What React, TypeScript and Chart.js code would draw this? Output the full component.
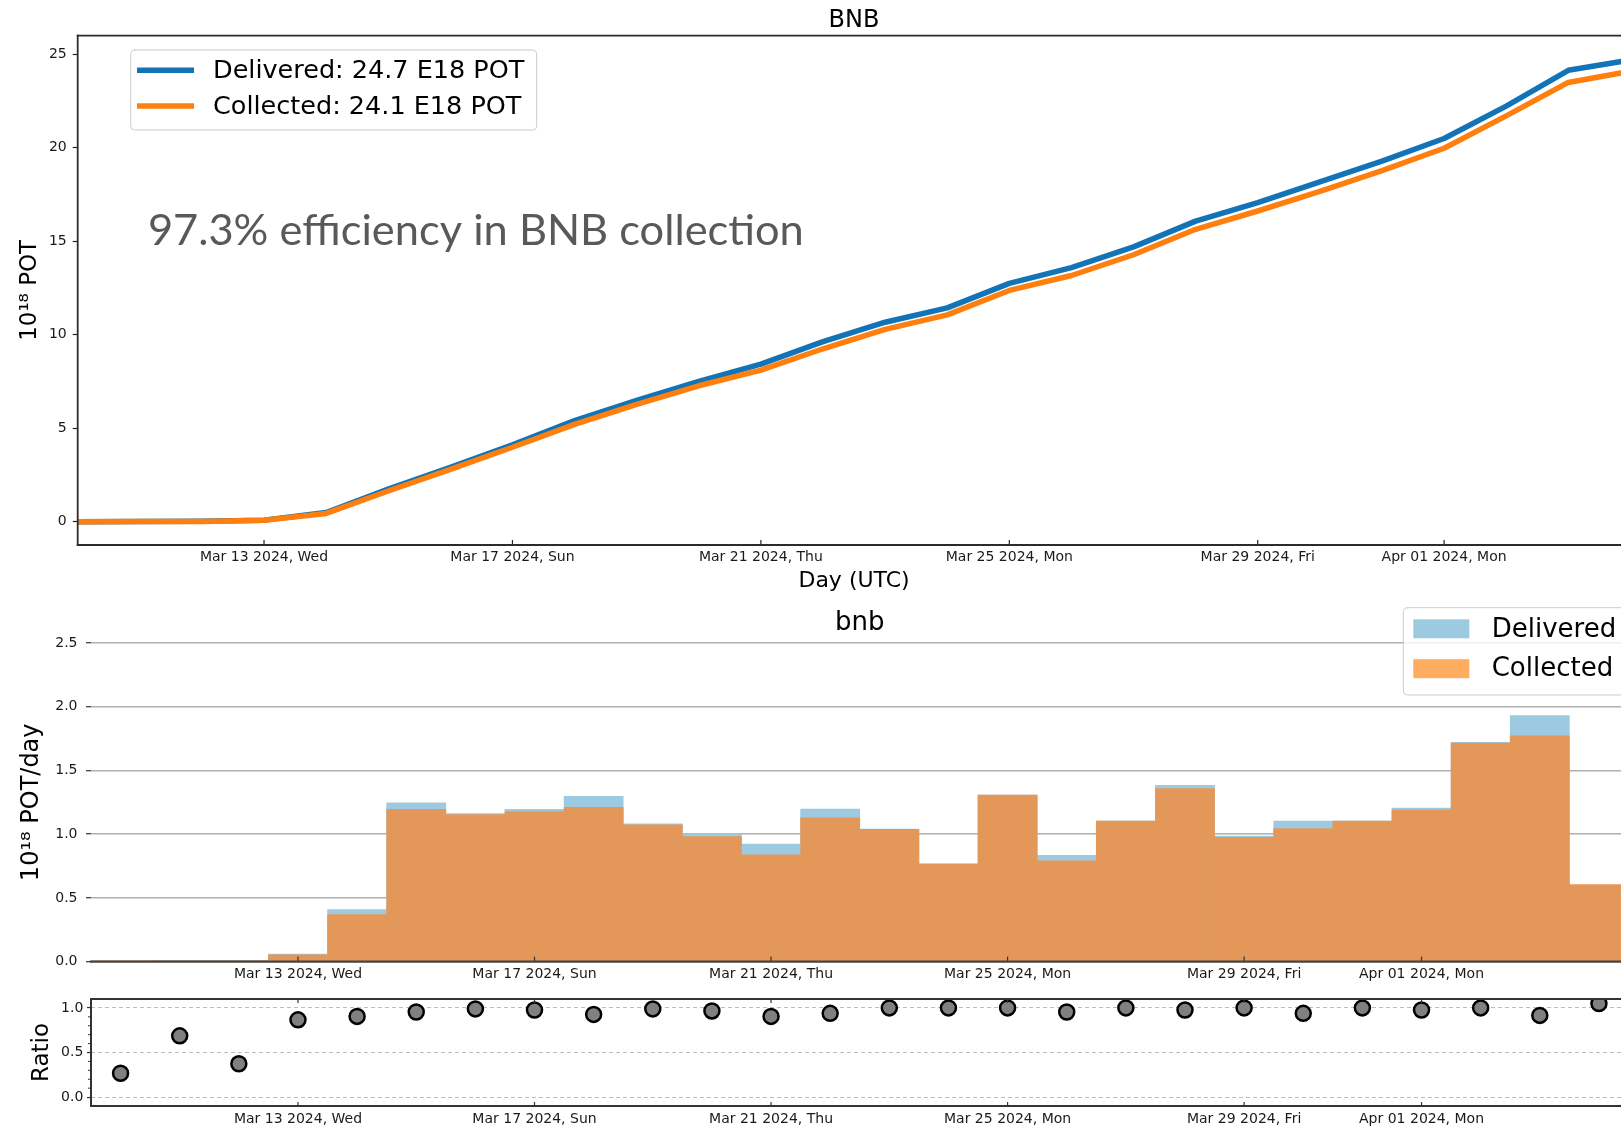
import React, { useEffect, useRef } from 'react';
import { Chart, registerables } from 'chart.js';

Chart.register(...registerables);
Chart.defaults.font.family = '"DejaVu Sans", sans-serif';
Chart.defaults.color = '#1a1a1a';

// ---------------- data ----------------
// x = days since Mar 10 2024 (0 = Mar 10, 25 = Apr 04)
const DAYS = [0, 1, 2, 3, 4, 5, 6, 7, 8, 9, 10, 11, 12, 13, 14, 15, 16, 17, 18, 19, 20, 21, 22, 23, 24, 25];
const TICK_DAYS = [3, 7, 11, 15, 19, 22];
const TICK_LABELS = [
  'Mar 13 2024, Wed',
  'Mar 17 2024, Sun',
  'Mar 21 2024, Thu',
  'Mar 25 2024, Mon',
  'Mar 29 2024, Fri',
  'Apr 01 2024, Mon',
];

// cumulative POT (1e18)
const CUM_DELIVERED = [0.0, 0.01, 0.02, 0.08, 0.49, 1.74, 2.91, 4.11, 5.41, 6.49, 7.5, 8.43, 9.63, 10.67, 11.44, 12.75, 13.59, 14.7, 16.08, 17.07, 18.18, 19.29, 20.5, 22.23, 24.15, 24.7];
const CUM_COLLECTED = [0.0, 0.005, 0.01, 0.07, 0.44, 1.64, 2.8, 3.98, 5.2, 6.28, 7.27, 8.11, 9.25, 10.29, 11.06, 12.37, 13.17, 14.28, 15.64, 16.62, 17.67, 18.78, 19.98, 21.71, 23.5, 24.1];

// daily POT (1e18 / day)
const DAILY_DELIVERED = [0.004, 0.01, 0.01, 0.059, 0.408, 1.246, 1.162, 1.195, 1.297, 1.081, 1.005, 0.922, 1.196, 1.04, 0.768, 1.306, 0.833, 1.102, 1.384, 0.984, 1.102, 1.102, 1.204, 1.72, 1.93, 0.585];
const DAILY_COLLECTED = [0.001, 0.007, 0.004, 0.054, 0.368, 1.195, 1.154, 1.178, 1.211, 1.073, 0.981, 0.838, 1.129, 1.038, 0.766, 1.306, 0.79, 1.102, 1.357, 0.976, 1.043, 1.102, 1.188, 1.715, 1.771, 0.605];

// collected / delivered
const RATIO = [0.267, 0.687, 0.374, 0.866, 0.905, 0.954, 0.989, 0.977, 0.927, 0.989, 0.966, 0.905, 0.939, 1.0, 1.0, 1.0, 0.954, 1.0, 0.977, 1.0, 0.939, 1.0, 0.977, 1.0, 0.916, 1.049];

const TOTAL_DELIVERED = 24.7;
const TOTAL_COLLECTED = 24.1;
const EFFICIENCY_TEXT = '97.3% efficiency in BNB collection';
const EFFICIENCY_POS = { x: 1.13, y: 14.8 };

const Y_TICKS_CUM = [0, 5, 10, 15, 20, 25];
const Y_TICKS_DAILY = [0, 0.5, 1.0, 1.5, 2.0, 2.5];
const Y_TICKS_RATIO = [0, 0.5, 1.0];
const Y_MINOR_RATIO = [0.1, 0.2, 0.3, 0.4, 0.6, 0.7, 0.8, 0.9];

// ---------------- styles ----------------
const BLUE = '#1274b7';
const ORANGE = '#ff7f0e';
const BAR_BLUE = 'rgb(158,202,225)';
const BAR_ORANGE = 'rgb(227,152,89)';
const LEGEND_ORANGE = 'rgb(253,172,96)';
const CANVAS_W = 1650;

const tickLabel = (v: any) => {
  const i = TICK_DAYS.indexOf(Number(v));
  return i >= 0 ? TICK_LABELS[i] : '';
};

function line(ctx: CanvasRenderingContext2D, x1: number, y1: number, x2: number, y2: number) {
  ctx.beginPath();
  ctx.moveTo(x1, y1);
  ctx.lineTo(x2, y2);
  ctx.stroke();
}

function roundRectPath(ctx: CanvasRenderingContext2D, x: number, y: number, w: number, h: number, r: number) {
  ctx.beginPath();
  ctx.moveTo(x + r, y);
  ctx.lineTo(x + w - r, y);
  ctx.arcTo(x + w, y, x + w, y + r, r);
  ctx.lineTo(x + w, y + h - r);
  ctx.arcTo(x + w, y + h, x + w - r, y + h, r);
  ctx.lineTo(x + r, y + h);
  ctx.arcTo(x, y + h, x, y + h - r, r);
  ctx.lineTo(x, y + r);
  ctx.arcTo(x, y, x + r, y, r);
  ctx.closePath();
}

const mplPlugin = {
  id: 'mpl',
  afterDraw(chart: any, _args: any, opts: any) {
    const ctx: CanvasRenderingContext2D = chart.ctx;
    const a = chart.chartArea;
    const xs = chart.scales.x;
    const ys = chart.scales.y;
    ctx.save();

    if (opts.annotation) {
      const an = opts.annotation;
      ctx.font = an.font;
      ctx.fillStyle = an.color;
      ctx.textAlign = 'left';
      ctx.textBaseline = 'alphabetic';
      ctx.fillText(an.text, xs.getPixelForValue(an.x), ys.getPixelForValue(an.y));
    }

    if (opts.yMinor) {
      const m = opts.yMinor;
      ctx.strokeStyle = m.color;
      ctx.lineWidth = m.width;
      for (const v of m.values) {
        const p = ys.getPixelForValue(v);
        line(ctx, a.left - m.len, p, a.left, p);
      }
    }

    if (opts.xTicksIn) {
      const t = opts.xTicksIn;
      ctx.strokeStyle = t.color;
      ctx.lineWidth = t.width;
      for (const tk of xs.ticks) {
        const p = xs.getPixelForValue(tk.value);
        if (t.bottom) line(ctx, p, a.bottom, p, a.bottom - t.len);
        if (t.top) line(ctx, p, a.top, p, a.top + t.len);
      }
    }

    if (opts.spines) {
      const s = opts.spines;
      ctx.strokeStyle = s.color;
      ctx.lineWidth = s.width;
      ctx.lineCap = 'square';
      if (s.top) line(ctx, a.left, a.top, a.right, a.top);
      if (s.bottom) line(ctx, a.left, a.bottom, a.right, a.bottom);
      if (s.left) line(ctx, a.left, a.top, a.left, a.bottom);
      if (s.right) line(ctx, a.right, a.top, a.right, a.bottom);
    }

    if (opts.legend) {
      const lg = opts.legend;
      const x0 = (lg.anchor === 'right' ? a.right : a.left) + lg.dx;
      const y0 = a.top + lg.dy;
      roundRectPath(ctx, x0, y0, lg.w, lg.h, 4);
      ctx.fillStyle = 'rgba(255,255,255,0.8)';
      ctx.fill();
      ctx.strokeStyle = '#cccccc';
      ctx.lineWidth = 1;
      ctx.stroke();
      ctx.font = `${lg.fontSize}px "DejaVu Sans"`;
      ctx.textAlign = 'left';
      ctx.textBaseline = 'middle';
      chart.data.datasets.forEach((ds: any, i: number) => {
        const cy = y0 + lg.rowY0 + i * lg.rowGap;
        if (lg.kind === 'line') {
          ctx.strokeStyle = ds.borderColor;
          ctx.lineWidth = ds.borderWidth;
          ctx.lineCap = 'butt';
          line(ctx, x0 + lg.sx, cy, x0 + lg.sx + lg.sw, cy);
        } else {
          ctx.fillStyle = ds.legendColor || ds.backgroundColor;
          ctx.fillRect(x0 + lg.sx, cy - lg.ph / 2, lg.sw, lg.ph);
        }
        ctx.fillStyle = '#000';
        ctx.fillText(ds.label, x0 + lg.tx, cy + 1);
      });
    }
    ctx.restore();
  },
};

const dayAxis = (min: number, max: number, height: number, pad: number, extra: any = {}) => ({
  type: 'linear',
  min,
  max,
  offset: false,
  afterBuildTicks: (s: any) => { s.ticks = TICK_DAYS.map((v) => ({ value: v })); },
  afterFit: (s: any) => { s.height = height; },
  grid: { display: false, drawTicks: false },
  border: { display: false },
  ticks: { callback: tickLabel, font: { size: 14 }, padding: pad, maxRotation: 0, autoSkip: false },
  ...extra,
});

// ---------------- chart configs ----------------
function cumulativeConfig(): any {
  const right = 1630.4;
  return {
    type: 'line',
    data: {
      datasets: [
        {
          label: `Delivered: ${TOTAL_DELIVERED} E18 POT`,
          data: DAYS.map((d, i) => ({ x: d, y: CUM_DELIVERED[i] })),
          borderColor: BLUE,
          borderWidth: 5.5,
          pointRadius: 0,
          tension: 0,
          borderJoinStyle: 'round',
          order: 1,
        },
        {
          label: `Collected: ${TOTAL_COLLECTED} E18 POT`,
          data: DAYS.map((d, i) => ({ x: d, y: CUM_COLLECTED[i] })),
          borderColor: ORANGE,
          borderWidth: 5.5,
          pointRadius: 0,
          tension: 0,
          borderJoinStyle: 'round',
          order: 0,
        },
      ],
    },
    options: {
      responsive: false,
      animation: false,
      events: [],
      layout: { padding: { left: 0, right: CANVAS_W - right, top: 0, bottom: 0 } },
      plugins: {
        legend: { display: false },
        tooltip: { enabled: false },
        title: {
          display: true,
          text: 'BNB',
          fullSize: false,
          color: '#000',
          font: { size: 24, weight: 'normal' },
          padding: { top: 6.2, bottom: 0.7 },
        },
        mpl: {
          annotation: { text: EFFICIENCY_TEXT, x: EFFICIENCY_POS.x, y: EFFICIENCY_POS.y, font: '43.4px Lato', color: '#595959' },
          xTicksIn: { bottom: true, len: 5, color: '#222', width: 1.2 },
          spines: { top: true, left: true, bottom: true, right: true, color: '#2b2b2b', width: 1.8 },
          legend: { kind: 'line', anchor: 'left', dx: 53, dy: 14.3, w: 406, h: 80, rowY0: 20.3, rowGap: 35.7, sx: 6.3, sw: 57, tx: 82.3, fontSize: 25.5 },
        },
      },
      scales: {
        x: dayAxis(DAYS[0], DAYS[DAYS.length - 1], 50, 4, {
          title: { display: true, text: 'Day (UTC)', color: '#000', font: { size: 22 }, padding: { top: 0, bottom: 0.5 } },
        }),
        y: {
          min: -1.25,
          max: 26,
          afterBuildTicks: (s: any) => { s.ticks = Y_TICKS_CUM.map((v) => ({ value: v })); },
          afterFit: (s: any) => { s.width = 77.7; },
          grid: { display: true, drawOnChartArea: false, drawTicks: true, tickLength: 5, tickColor: '#222', tickWidth: 1.2 },
          border: { display: false },
          ticks: { callback: (v: any) => String(v), font: { size: 14 }, padding: 6 },
          title: { display: true, text: '10¹⁸ POT', color: '#000', font: { size: 23 }, padding: { top: 16.2, bottom: 0 } },
        },
      },
    },
    plugins: [mplPlugin],
  };
}

function dailyConfig(): any {
  const right = 1628.5;
  return {
    type: 'bar',
    data: {
      datasets: [
        {
          label: 'Delivered',
          data: DAYS.map((d, i) => ({ x: d, y: DAILY_DELIVERED[i] })),
          backgroundColor: BAR_BLUE,
          borderWidth: 0,
          barPercentage: 1,
          categoryPercentage: 1,
          grouped: false,
          order: 1,
        },
        {
          label: 'Collected',
          data: DAYS.map((d, i) => ({ x: d, y: DAILY_COLLECTED[i] })),
          backgroundColor: BAR_ORANGE,
          legendColor: LEGEND_ORANGE,
          borderWidth: 0,
          barPercentage: 1,
          categoryPercentage: 1,
          grouped: false,
          order: 0,
        },
      ],
    },
    options: {
      responsive: false,
      animation: false,
      events: [],
      layout: { padding: { left: 0, right: CANVAS_W - right, top: 0, bottom: 0 } },
      plugins: {
        legend: { display: false },
        tooltip: { enabled: false },
        title: {
          display: true,
          text: 'bnb',
          fullSize: false,
          color: '#000',
          font: { size: 26, weight: 'normal' },
          padding: { top: 12.4, bottom: 4.4 },
        },
        mpl: {
          xTicksIn: { bottom: true, len: 5, color: '#333', width: 1.2 },
          spines: { bottom: true, color: '#444', width: 2.2 },
          legend: { kind: 'patch', anchor: 'right', dx: -225.2, dy: -35.3, w: 240, h: 87.3, rowY0: 21.1, rowGap: 39.9, sx: 10, sw: 56, ph: 19, tx: 88.4, fontSize: 26 },
        },
      },
      scales: {
        x: dayAxis(DAYS[0] - 0.5, DAYS[DAYS.length - 1] + 0.5, 23.4, 4),
        y: {
          min: 0,
          max: 2.5,
          z: 1,
          afterBuildTicks: (s: any) => { s.ticks = Y_TICKS_DAILY.map((v) => ({ value: v })); },
          afterFit: (s: any) => { s.width = 91; },
          grid: {
            display: true,
            color: (c: any) => (c.tick && c.tick.value === 0 ? 'rgba(0,0,0,0)' : '#b0b0b0'),
            lineWidth: 1.4,
            drawTicks: true,
            tickLength: 5,
            tickColor: '#333',
            tickWidth: 1.2,
          },
          border: { display: false },
          ticks: { callback: (v: any) => Number(v).toFixed(1), font: { size: 14 }, padding: 8.5 },
          title: { display: true, text: '10¹⁸ POT/day', color: '#000', font: { size: 24 }, padding: { top: 17.3, bottom: 0 } },
        },
      },
    },
    plugins: [mplPlugin],
  };
}

function ratioConfig(): any {
  const right = 1628.5;
  return {
    type: 'scatter',
    data: {
      datasets: [
        {
          label: 'Ratio',
          data: DAYS.map((d, i) => ({ x: d, y: RATIO[i] })),
          showLine: false,
          pointRadius: 7.5,
          pointBackgroundColor: '#808080',
          pointBorderColor: '#000',
          pointBorderWidth: 2.5,
        },
      ],
    },
    options: {
      responsive: false,
      animation: false,
      events: [],
      layout: { padding: { left: 0, right: CANVAS_W - right, top: 14, bottom: 0 } },
      plugins: {
        legend: { display: false },
        tooltip: { enabled: false },
        mpl: {
          xTicksIn: { bottom: true, top: true, len: 4, color: '#333', width: 1.2 },
          yMinor: { values: Y_MINOR_RATIO, len: 3, color: '#333', width: 1 },
          spines: { top: true, left: true, bottom: true, right: true, color: '#333', width: 2 },
        },
      },
      scales: {
        x: dayAxis(DAYS[0] - 0.5, DAYS[DAYS.length - 1] + 0.5, 25, 5),
        y: {
          min: -0.1,
          max: 1.1,
          afterBuildTicks: (s: any) => { s.ticks = Y_TICKS_RATIO.map((v) => ({ value: v })); },
          afterFit: (s: any) => { s.width = 91; },
          grid: {
            display: true,
            color: '#bdbdbd',
            lineWidth: 1.1,
            drawTicks: true,
            tickLength: 4,
            tickColor: '#333',
            tickWidth: 1.2,
          },
          border: { display: false, dash: [4, 3] },
          ticks: { callback: (v: any) => Number(v).toFixed(1), font: { size: 14 }, padding: 3.7 },
          title: { display: true, text: 'Ratio', color: '#000', font: { size: 23 }, padding: { top: 27.9, bottom: 0 } },
        },
      },
    },
    plugins: [mplPlugin],
  };
}

// ---------------- components ----------------
function ChartBox({ top, height, make }: { top: number; height: number; make: () => any }) {
  const ref = useRef<HTMLCanvasElement>(null);
  useEffect(() => {
    const chart = new Chart(ref.current as HTMLCanvasElement, make());
    return () => chart.destroy();
  }, []);
  return (
    <canvas
      ref={ref}
      width={CANVAS_W}
      height={height}
      style={{ position: 'absolute', left: 0, top, width: CANVAS_W, height, display: 'block' }}
    />
  );
}

export default function App() {
  useEffect(() => {
    document.body.style.margin = '0';
  }, []);
  return (
    <div
      style={{
        position: 'fixed',
        left: 0,
        top: 0,
        width: 1621,
        height: 1131,
        overflow: 'hidden',
        background: '#ffffff',
      }}
    >
      <ChartBox top={0} height={595} make={cumulativeConfig} />
      <ChartBox top={595} height={390} make={dailyConfig} />
      <ChartBox top={985} height={146} make={ratioConfig} />
    </div>
  );
}
